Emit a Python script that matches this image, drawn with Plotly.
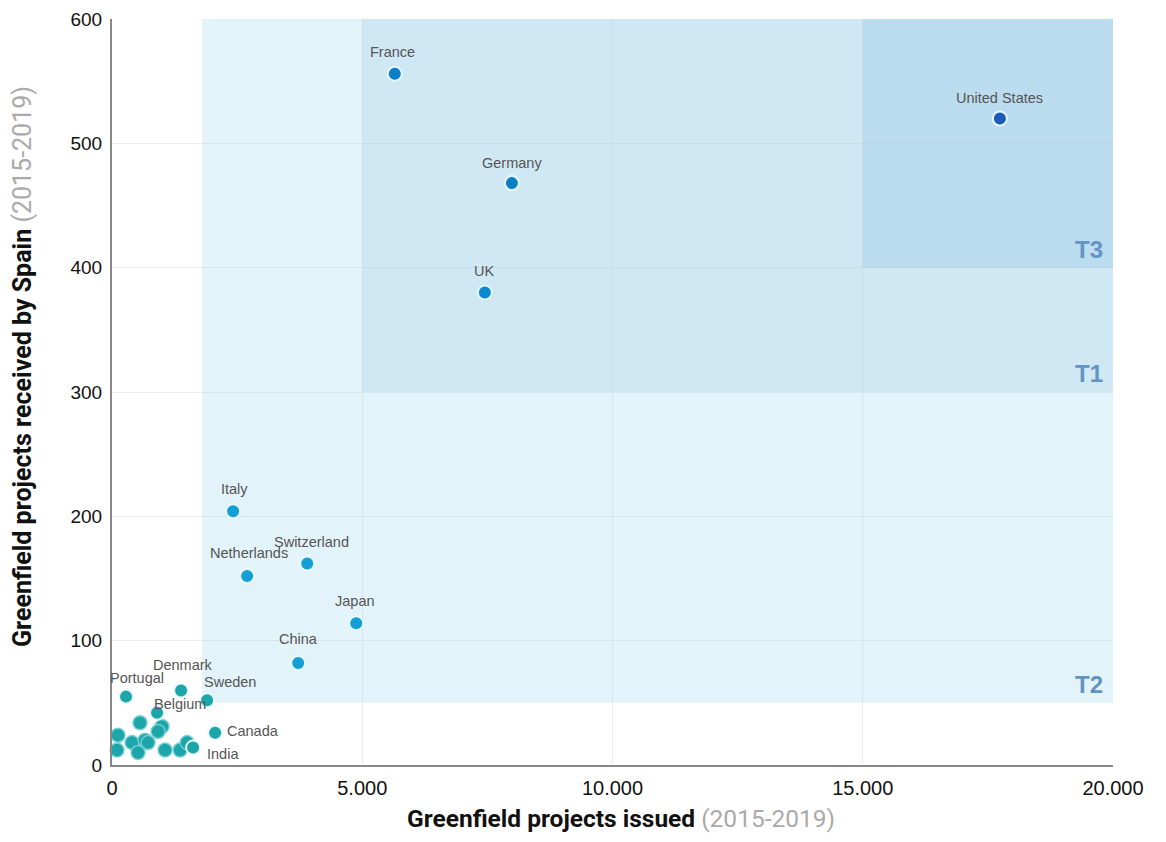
import plotly.graph_objects as go

# Labeled countries
countries = ["France", "Germany", "UK", "United States", "Italy", "Netherlands",
             "Switzerland", "Japan", "China", "Portugal", "Denmark", "Sweden",
             "Belgium", "Canada", "India"]
issued = [5650, 7990, 7450, 17740, 2420, 2700, 3900, 4880, 3720, 280, 1380, 1900, 900, 2060, 1620]
received = [556, 468, 380, 520, 204, 152, 162, 114, 82, 55, 60, 52, 42, 26, 14]
dot_colors = ["#0b7fc6", "#0b7fc6", "#0b8ad0", "#1a5cb8", "#14a0d6", "#14a0d6",
              "#14a0d6", "#14a0d6", "#14a0d6", "#1ca6aa", "#1ca6aa", "#1ca6aa",
              "#1ca6aa", "#1ca6aa", "#1ca6aa"]
# label offsets from the dot centre (pixels: right, up)
label_dx = [-2, 0, -1, 0, 1, 2, 4, -1, 0, 11, 2, 23, 23, 38, 30]
label_dy = [22, 20, 22, 20, 22, 23, 22, 22, 24, 19, 25, 18, 9, 2, -6]

# Unlabeled small countries
small_issued = [560, 1000, 920, 120, 400, 660, 720, 100, 520, 1060, 1360, 1500]
small_received = [34, 31, 27, 24, 18, 20, 18, 12, 10, 12, 12, 18]

# Tier zones
tiers = ["T2", "T1", "T3"]
tier_x0 = [1800, 5000, 15000]
tier_y0 = [50, 300, 400]
tier_fill = ["#e2f3f9", "#cfe8f4", "#badcee"]

x_ticks = [0, 5000, 10000, 15000, 20000]
y_ticks = [0, 100, 200, 300, 400, 500, 600]

fig = go.Figure()

for name, x0, y0, fc in zip(tiers, tier_x0, tier_y0, tier_fill):
    fig.add_shape(type="rect", x0=x0, x1=20000, y0=y0, y1=600, xref="x", yref="y",
                  fillcolor=fc, line=dict(width=0), layer="below")
    fig.add_annotation(x=20000, y=y0, xref="x", yref="y", text="<b>" + name + "</b>", showarrow=False,
                       xanchor="right", yanchor="bottom", xshift=-8, yshift=3,
                       font=dict(family="Liberation Sans, Arial", size=24, color="#6394c4"))

fig.add_trace(go.Scatter(
    x=small_issued, y=small_received, mode="markers",
    marker=dict(size=14, color="#1ca6aa", line=dict(color="rgba(120,210,210,0.9)", width=1.5)),
    cliponaxis=False, hoverinfo="skip", showlegend=False))

fig.add_trace(go.Scatter(
    x=issued, y=received, mode="markers", text=countries, hoverinfo="text",
    marker=dict(size=14, color=dot_colors, line=dict(color="rgba(235,250,255,0.95)", width=2)),
    cliponaxis=False, showlegend=False))

for name, xv, yv, dx, dy in zip(countries, issued, received, label_dx, label_dy):
    fig.add_annotation(x=xv, y=yv, xref="x", yref="y", text=name, showarrow=False,
                       xanchor="center", yanchor="middle", xshift=dx, yshift=dy,
                       font=dict(family="Liberation Sans, Arial", size=14.5, color="#555555"))

fig.add_annotation(x=0.5085, y=-0.072, xref="paper", yref="paper", showarrow=False,
                   xanchor="center", yanchor="middle",
                   font=dict(family="Roboto, Arial", size=24.5, color="#111111"),
                   text="<b>Greenfield projects issued</b> <span style='color:#aaaaaa'>(2015-2019)</span>")
fig.add_annotation(x=0, y=0.5335, xref="paper", yref="paper", showarrow=False,
                   xanchor="center", yanchor="middle", xshift=-90, textangle=-90,
                   font=dict(family="Roboto, Arial", size=25, color="#111111"),
                   text="<b>Greenfield projects received by Spain</b> <span style='color:#aaaaaa'>(2015-2019)</span>")

fig.update_layout(
    width=1150, height=826,
    margin=dict(l=104, r=45, t=11, b=69),
    paper_bgcolor="white", plot_bgcolor="white",
    separators=",.",
    xaxis=dict(range=[0, 20000], tickvals=x_ticks, tickformat=",d", automargin=False,
               showgrid=True, gridcolor="rgba(190,200,205,0.3)", gridwidth=1,
               zeroline=False, showline=True, linecolor="#888888", linewidth=2,
               ticks="", ticklabelstandoff=4,
               tickfont=dict(family="Liberation Sans, Arial", size=20, color="#111111")),
    yaxis=dict(range=[0, 600], tickvals=y_ticks, automargin=False,
               showgrid=True, gridcolor="rgba(190,200,205,0.3)", gridwidth=1,
               zeroline=False, showline=True, linecolor="#888888", linewidth=2,
               ticks="", ticklabelstandoff=4,
               tickfont=dict(family="Liberation Sans, Arial", size=19, color="#111111")),
)

fig.write_html("out.html")
